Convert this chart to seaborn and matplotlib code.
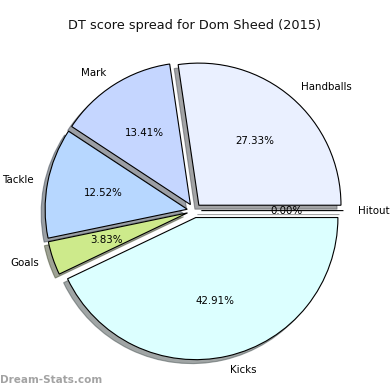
import matplotlib
matplotlib.use("Agg")
import matplotlib.pyplot as plt
import seaborn as sns

sns.set_theme(style="white")
plt.rcParams['font.family'] = ['DejaVu Sans']

labels = ["Handballs", "Mark", "Tackle", "Goals", "Kicks", "Hitout"]
values = [27.33, 13.41, 12.52, 3.83, 42.91, 0.00]
colors = ["#eaf0ff", "#c5d6ff", "#b7d7ff", "#cdea8b", "#dcffff", "#ffffff"]
explode = [0.05, 0.05, 0.05, 0.05, 0.05, 0.05]
title = "DT score spread for Dom Sheed (2015)"
watermark = "Dream-Stats.com"

fig = plt.figure(figsize=(3.9, 3.9), dpi=100)
ax = fig.add_axes([0.0425, 0.0045, 0.911, 0.911])
wedges, texts, autotexts = ax.pie(
    values, labels=labels, colors=colors, explode=explode, startangle=0,
    autopct="%1.2f%%", shadow=True,
    wedgeprops=dict(edgecolor="black", linewidth=0.8),
    textprops=dict(fontsize=7.4, color="black"),
)
ax.set_aspect("equal")
fig.text(195/390, 1 - 25/390, title, ha="center", va="center", fontsize=9.3, color="#111111")
fig.text(0.0, 1 - 380/390, watermark, ha="left", va="center", fontsize=7.5,
         fontweight="bold", color="#999999", alpha=0.9)
fig.savefig("out.png", dpi=100)
